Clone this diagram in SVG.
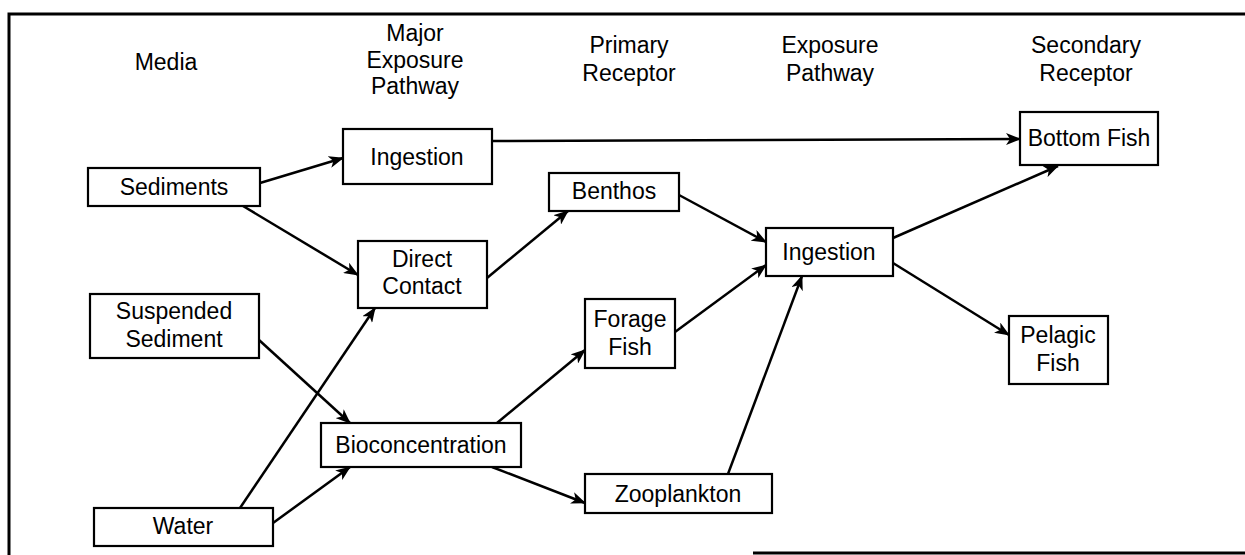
<svg xmlns="http://www.w3.org/2000/svg" width="1245" height="555" viewBox="0 0 1245 555">
<style>
text{font-family:"Liberation Sans",Arial,sans-serif;font-size:23px;fill:#000;text-anchor:middle}
.box{fill:#fff;stroke:#000;stroke-width:2.2}
.edge{stroke:#000;stroke-width:2.5;fill:none;marker-end:url(#ah)}
.frame{stroke:#000;stroke-width:3;fill:none}
</style>
<defs>
<marker id="ah" markerUnits="userSpaceOnUse" markerWidth="16" markerHeight="12" refX="14" refY="6" orient="auto">
<path d="M0,0 L15,6 L0,12 L4,6 z" fill="#000"/>
</marker>
</defs>
<rect width="1245" height="555" fill="#fff"/>
<g id="frame">
<path class="frame" d="M1245,14 L9,14 L9,555"/>
<path class="frame" d="M753,553 L1245,553"/>
</g>
<g id="headers">
<text x="166" y="70">Media</text>
<text x="415" y="41">Major</text>
<text x="415" y="68">Exposure</text>
<text x="415" y="94">Pathway</text>
<text x="629" y="53">Primary</text>
<text x="629" y="81">Receptor</text>
<text x="830" y="53">Exposure</text>
<text x="830" y="81">Pathway</text>
<text x="1086" y="53">Secondary</text>
<text x="1086" y="81">Receptor</text>
</g>
<g id="connectors">
<line class="edge" x1="260" y1="183" x2="343" y2="158"/>
<line class="edge" x1="243" y1="206" x2="358" y2="275"/>
<line class="edge" x1="492" y1="141" x2="1020" y2="139"/>
<line class="edge" x1="487" y1="278" x2="568" y2="211"/>
<line class="edge" x1="679" y1="195" x2="766" y2="242"/>
<line class="edge" x1="259" y1="340" x2="350" y2="423"/>
<line class="edge" x1="240" y1="508" x2="375" y2="308"/>
<line class="edge" x1="273" y1="523" x2="350" y2="467"/>
<line class="edge" x1="497" y1="423" x2="585" y2="350"/>
<line class="edge" x1="492" y1="467" x2="585" y2="503"/>
<line class="edge" x1="675" y1="332" x2="766" y2="265"/>
<line class="edge" x1="728" y1="474" x2="802" y2="276"/>
<line class="edge" x1="893" y1="238" x2="1058" y2="166"/>
<line class="edge" x1="893" y1="263" x2="1009" y2="335"/>
</g>
<g id="sediments"><rect class="box" x="88" y="168" width="172" height="38"/><text x="174" y="195">Sediments</text></g>
<g id="ingestion-major"><rect class="box" x="343" y="129" width="149" height="55"/><text x="417" y="165">Ingestion</text></g>
<g id="benthos"><rect class="box" x="549" y="173" width="130" height="38"/><text x="614" y="199">Benthos</text></g>
<g id="bottom-fish"><rect class="box" x="1020" y="112" width="138" height="53"/><text x="1089" y="146">Bottom Fish</text></g>
<g id="direct-contact"><rect class="box" x="358" y="241" width="129" height="67"/><text x="422" y="267">Direct</text><text x="422" y="294">Contact</text></g>
<g id="suspended-sediment"><rect class="box" x="90" y="294" width="169" height="64"/><text x="174" y="319">Suspended</text><text x="174" y="347">Sediment</text></g>
<g id="bioconcentration"><rect class="box" x="321" y="423" width="200" height="44"/><text x="421" y="453">Bioconcentration</text></g>
<g id="water"><rect class="box" x="94" y="508" width="179" height="38"/><text x="183" y="534">Water</text></g>
<g id="forage-fish"><rect class="box" x="585" y="299" width="90" height="69"/><text x="630" y="327">Forage</text><text x="630" y="355">Fish</text></g>
<g id="zooplankton"><rect class="box" x="585" y="474" width="187" height="39"/><text x="678" y="502">Zooplankton</text></g>
<g id="ingestion-exposure"><rect class="box" x="766" y="228" width="127" height="48"/><text x="829" y="260">Ingestion</text></g>
<g id="pelagic-fish"><rect class="box" x="1009" y="316" width="99" height="68"/><text x="1058" y="343">Pelagic</text><text x="1058" y="371">Fish</text></g>
</svg>
